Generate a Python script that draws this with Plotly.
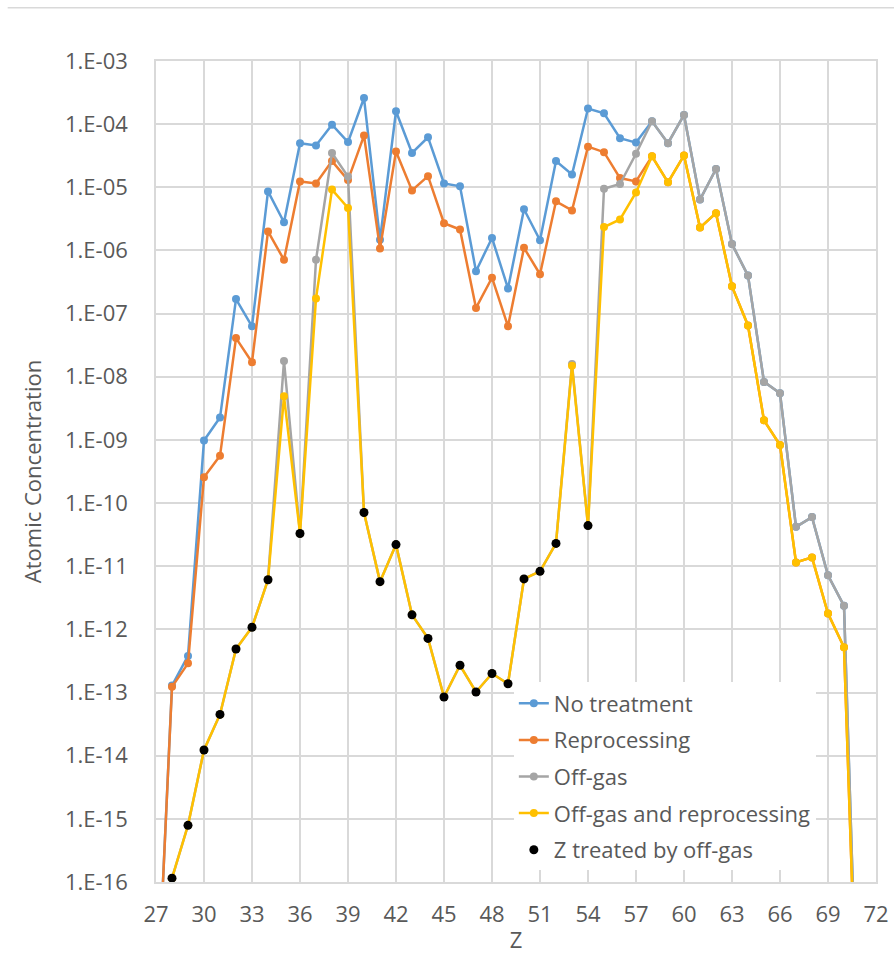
import plotly.graph_objects as go

Z = list(range(27, 72))

no_treatment = [4e-19, 1.29e-13, 3.8e-13, 9.8e-10, 2.26e-9, 1.7e-7, 6.3e-8, 8.6e-6, 2.8e-6, 5.0e-5,
                4.6e-5, 9.8e-5, 5.2e-5, 2.6e-4, 1.48e-6, 1.6e-4, 3.5e-5, 6.2e-5, 1.15e-5, 1.04e-5,
                4.7e-7, 1.58e-6, 2.5e-7, 4.5e-6, 1.45e-6, 2.6e-5, 1.6e-5, 1.77e-4, 1.49e-4, 6.0e-5,
                5.1e-5, 1.11e-4, 5.0e-5, 1.4e-4, 6.4e-6, 1.95e-5, 1.26e-6, 4.0e-7, 8.3e-9, 5.5e-9,
                4.2e-11, 6.0e-11, 7.2e-12, 2.36e-12, 2e-20]

reprocessing = [4e-19, 1.23e-13, 2.9e-13, 2.57e-10, 5.6e-10, 4.1e-8, 1.7e-8, 2.0e-6, 7.1e-7, 1.24e-5,
                1.15e-5, 2.6e-5, 1.3e-5, 6.6e-5, 1.07e-6, 3.7e-5, 8.9e-6, 1.5e-5, 2.7e-6, 2.15e-6,
                1.23e-7, 3.7e-7, 6.3e-8, 1.1e-6, 4.2e-7, 6.0e-6, 4.3e-6, 4.4e-5, 3.6e-5, 1.4e-5,
                1.24e-5, 3.1e-5, 1.2e-5, 3.2e-5, 2.3e-6, 3.9e-6, 2.7e-7, 6.5e-8, 2.04e-9, 8.3e-10,
                1.15e-11, 1.38e-11, 1.78e-12, 5.2e-13, 2e-20]

off_gas = [1e-19, 1.15e-16, 7.9e-16, 1.23e-14, 4.5e-14, 4.9e-13, 1.08e-12, 6.1e-12, 1.78e-8, 3.3e-11,
           7.1e-7, 3.5e-5, 1.48e-5, 7.1e-11, 5.7e-12, 2.2e-11, 1.7e-12, 7.2e-13, 8.5e-14, 2.7e-13,
           1.02e-13, 2.0e-13, 1.38e-13, 6.3e-12, 8.3e-12, 2.3e-11, 1.6e-8, 4.4e-11, 9.5e-6, 1.13e-5,
           3.4e-5, 1.11e-4, 5.0e-5, 1.4e-4, 6.4e-6, 1.95e-5, 1.26e-6, 4.0e-7, 8.3e-9, 5.5e-9,
           4.2e-11, 6.0e-11, 7.2e-12, 2.36e-12, 2e-20]

off_gas_reproc = [1e-19, 1.15e-16, 7.9e-16, 1.23e-14, 4.5e-14, 4.9e-13, 1.08e-12, 6.1e-12, 4.9e-9, 3.3e-11,
                  1.74e-7, 9.2e-6, 4.7e-6, 7.1e-11, 5.7e-12, 2.2e-11, 1.7e-12, 7.2e-13, 8.5e-14, 2.7e-13,
                  1.02e-13, 2.0e-13, 1.38e-13, 6.3e-12, 8.3e-12, 2.3e-11, 1.49e-8, 4.4e-11, 2.35e-6, 3.1e-6,
                  8.3e-6, 3.1e-5, 1.2e-5, 3.2e-5, 2.3e-6, 3.9e-6, 2.7e-7, 6.5e-8, 2.04e-9, 8.3e-10,
                  1.15e-11, 1.38e-11, 1.78e-12, 5.2e-13, 2e-20]

treated_Z = [28, 29, 30, 31, 32, 33, 34, 36, 40, 41, 42, 43, 44, 45, 46, 47, 48, 49, 50, 51, 52, 54]
treated_vals = [1.15e-16, 7.9e-16, 1.23e-14, 4.5e-14, 4.9e-13, 1.08e-12, 6.1e-12, 3.3e-11, 7.1e-11, 5.7e-12,
                2.2e-11, 1.7e-12, 7.2e-13, 8.5e-14, 2.7e-13, 1.02e-13, 2.0e-13, 1.38e-13, 6.3e-12, 8.3e-12,
                2.3e-11, 4.4e-11]

y_tick_exps = list(range(-3, -17, -1))
y_tick_vals = [10.0 ** e for e in y_tick_exps]
y_tick_text = ["1.E-%02d" % (-e) for e in y_tick_exps]

FONT = "Open Sans"
TXT = "#595959"
GRID = "#d9d9d9"

fig = go.Figure()
series = [
    ("No treatment", no_treatment, "#5B9BD5"),
    ("Reprocessing", reprocessing, "#ED7D31"),
    ("Off-gas", off_gas, "#A5A5A5"),
    ("Off-gas and reprocessing", off_gas_reproc, "#FFC000"),
]
for i, (name, vals, col) in enumerate(series):
    fig.add_trace(go.Scatter(
        x=Z, y=vals, name=name, mode="lines+markers",
        line=dict(color=col, width=2.5),
        marker=dict(color=col, size=8),
        legendgroup="g%d" % i,
    ))
fig.add_trace(go.Scatter(
    x=treated_Z, y=treated_vals, name="Z treated by off-gas", mode="markers",
    marker=dict(color="#000000", size=9),
    legendgroup="g4",
))

fig.update_layout(
    width=894, height=954,
    margin=dict(l=156, r=18, t=61, b=72),
    paper_bgcolor="white", plot_bgcolor="white",
    font=dict(family=FONT, size=22, color=TXT),
    showlegend=True,
    legend=dict(
        x=0.497, y=0.243, xanchor="left", yanchor="top",
        bgcolor="white", borderwidth=0,
        font=dict(family=FONT, size=22, color=TXT),
        traceorder="grouped", tracegroupgap=5,
        itemwidth=30,
    ),
    xaxis=dict(
        range=[27, 72], tick0=27, dtick=3, showgrid=True, gridcolor=GRID, gridwidth=1.5,
        showline=True, linecolor=GRID, linewidth=1.5, mirror=True, zeroline=False,
        ticks="", ticklabelstandoff=12, automargin=False,
        title=dict(text="Z", font=dict(family=FONT, size=22, color=TXT), standoff=8),
    ),
    yaxis=dict(
        type="log", range=[-16, -3], tickvals=y_tick_vals, ticktext=y_tick_text,
        showgrid=True, gridcolor=GRID, gridwidth=1.5,
        showline=True, linecolor=GRID, linewidth=1.5, mirror=True, zeroline=False,
        ticks="", ticklabelstandoff=22, automargin=False,
        title=dict(text="Atomic Concentration", font=dict(family=FONT, size=22, color=TXT), standoff=17),
    ),
    shapes=[dict(type="line", xref="paper", yref="paper",
                 x0=-0.206, x1=1.03, y0=1.065, y1=1.065,
                 line=dict(color=GRID, width=1.5))],
)

fig.write_html("out.html")
